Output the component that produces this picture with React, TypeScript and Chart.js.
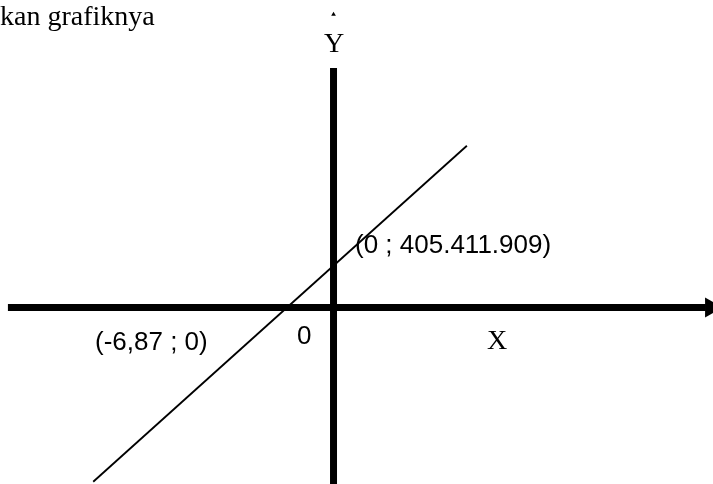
import React, { useEffect, useRef } from 'react';
import { Chart, registerables } from 'chart.js';

Chart.register(...registerables);

// Linear function y = a + b x (y in millions)
const xIntercept = -6.87;
const yIntercept = 405.411909; // millions
const lineX = [-35.5, 19.7];
const lineY = [-1690, 1569];

// Axis extents (data units)
const xAxisSpan = [-48.1, 55.0];
const yAxisSpan = [-1712, 2323];
const xArrowAt = [55.74];
const yArrowTipAt = [2843];

// Texts
const titleText = 'kan grafiknya';
const yAxisName = 'Y';
const xAxisName = 'X';
const originLabel = '0';
const yInterceptLabel = '(0 ; 405.411.909)';
const xInterceptLabel = '(-6,87 ; 0)';

const X_MIN = -49.27;
const X_MAX = 56.06;
const Y_MIN = -1712;
const Y_MAX = 2982.5;

export default function App() {
  const ref = useRef<HTMLCanvasElement | null>(null);

  useEffect(() => {
    document.body.style.margin = '0';
    const canvas = ref.current;
    if (!canvas) return;

    const labelPlugin = {
      id: 'labels',
      afterDatasetsDraw(chart: any) {
        const ctx = chart.ctx as CanvasRenderingContext2D;
        const xs = chart.scales.x;
        const ys = chart.scales.y;
        const ox = xs.getPixelForValue(0);
        const oy = ys.getPixelForValue(0);
        const yi = ys.getPixelForValue(yIntercept);
        ctx.save();
        ctx.fillStyle = '#000';
        ctx.textBaseline = 'alphabetic';
        ctx.textAlign = 'left';
        ctx.font = '28px "Liberation Serif", "Times New Roman", serif';
        ctx.fillText(titleText, 0, 25);
        ctx.fillText(xAxisName, ox + 153.5, oy + 41.5);
        ctx.textAlign = 'center';
        ctx.fillText(yAxisName, ox + 0.5, 52);
        ctx.textAlign = 'left';
        ctx.font = '26px "Liberation Sans", Arial, sans-serif';
        ctx.fillText(yInterceptLabel, ox + 21.5, yi - 12.7);
        ctx.fillText(xInterceptLabel, ox - 238.5, oy + 42.5);
        ctx.fillText(originLabel, ox - 36.5, oy + 37);
        ctx.restore();
      },
    };

    const chart = new Chart(canvas, {
      type: 'scatter',
      data: {
        datasets: [
          {
            label: 'x-axis',
            data: xAxisSpan.map((x) => ({ x, y: 0 })),
            showLine: true,
            borderColor: '#000',
            borderWidth: 7,
            pointRadius: 0,
          },
          {
            label: 'y-axis',
            data: yAxisSpan.map((y) => ({ x: 0, y })),
            showLine: true,
            borderColor: '#000',
            borderWidth: 7,
            pointRadius: 0,
          },
          {
            label: 'line',
            data: lineX.map((x, i) => ({ x, y: lineY[i] })),
            showLine: true,
            borderColor: '#000',
            borderWidth: 1.8,
            pointRadius: 0,
          },
          {
            label: 'x-arrow',
            data: xArrowAt.map((x) => ({ x, y: 0 })),
            pointStyle: 'triangle',
            rotation: 90,
            pointRadius: 11.5,
            backgroundColor: '#000',
            borderWidth: 0,
            clip: false,
          },
          {
            label: 'y-arrow',
            data: yArrowTipAt.map((y) => ({ x: 0, y })),
            pointStyle: 'triangle',
            rotation: 0,
            pointRadius: 2.7,
            backgroundColor: '#000',
            borderWidth: 0,
          },
        ],
      },
      options: {
        responsive: false,
        animation: false,
        events: [],
        layout: { padding: 0, autoPadding: false },
        plugins: {
          legend: { display: false },
          tooltip: { enabled: false },
          title: { display: false },
        },
        scales: {
          x: { type: 'linear', min: X_MIN, max: X_MAX, display: false },
          y: { type: 'linear', min: Y_MIN, max: Y_MAX, display: false },
        },
      },
      plugins: [labelPlugin],
    });

    return () => chart.destroy();
  }, []);

  return (
    <div style={{ width: 713, height: 484, background: '#fff' }}>
      <canvas ref={ref} width={713} height={484} style={{ display: 'block' }} />
    </div>
  );
}
